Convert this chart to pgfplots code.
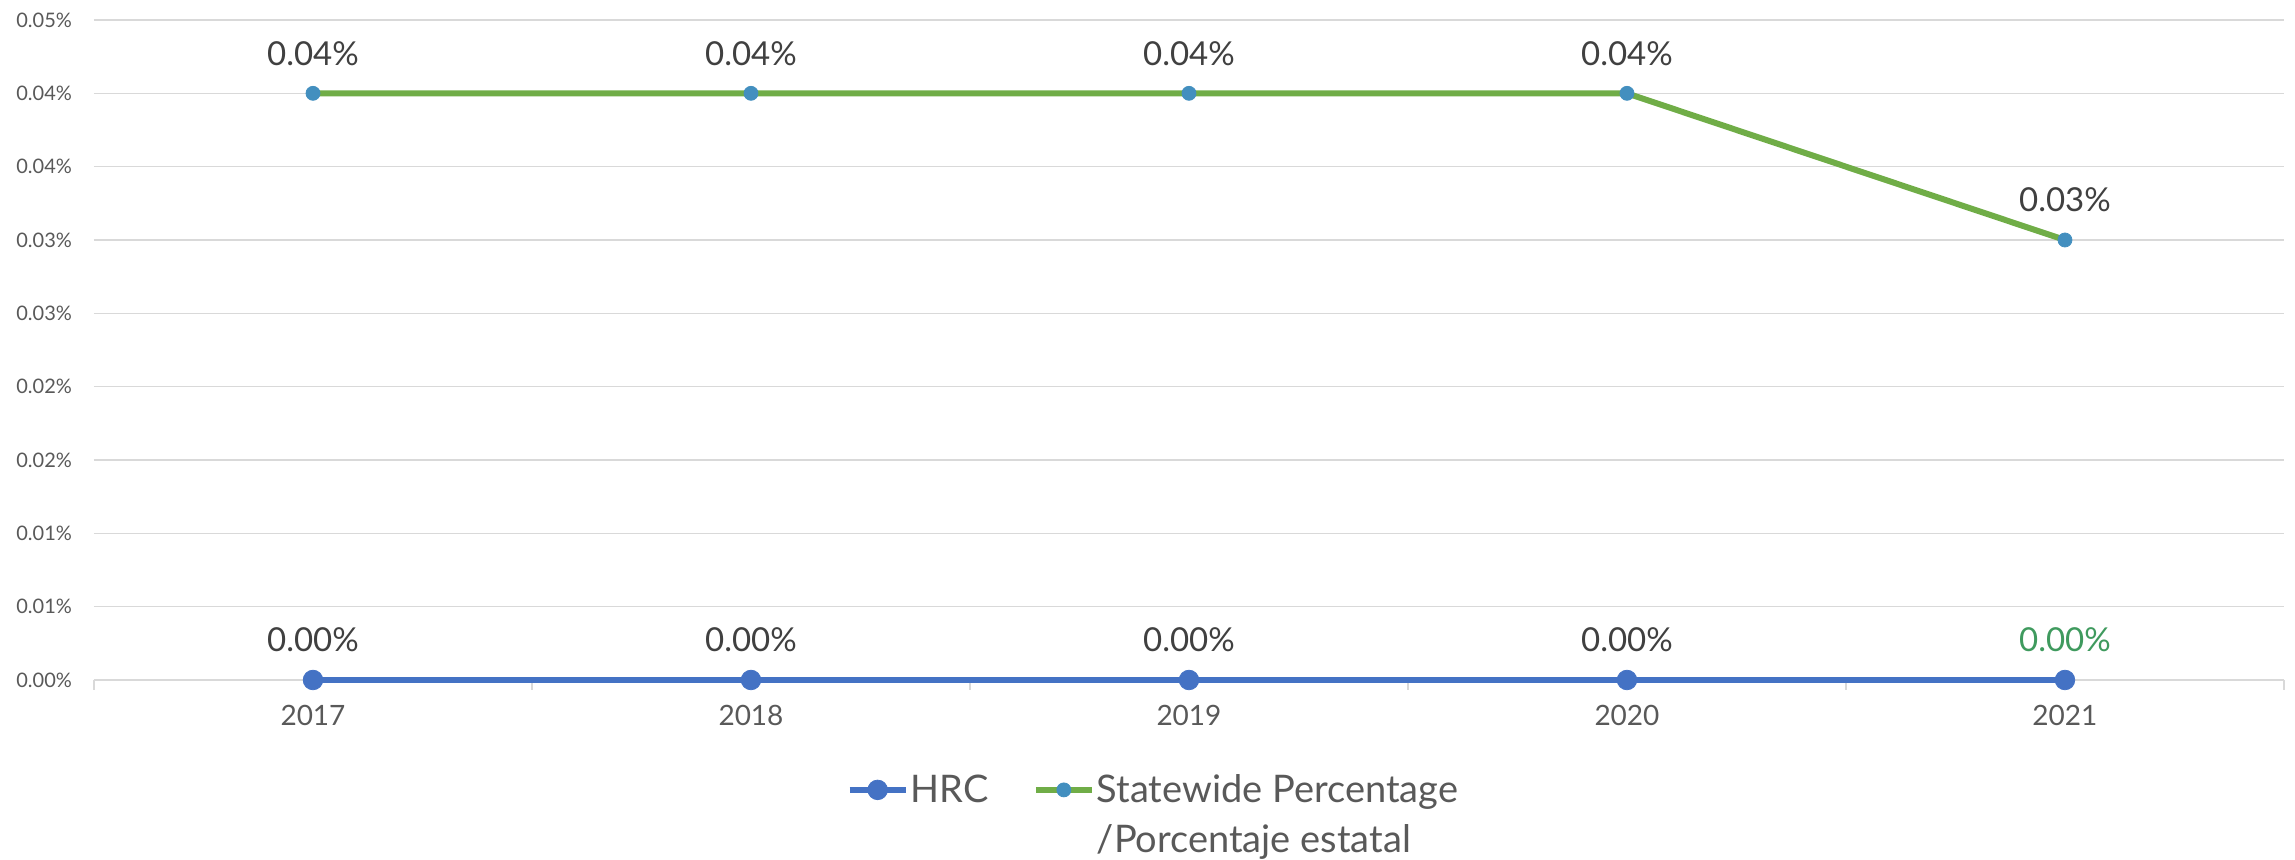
\documentclass[border=0pt]{standalone}
\usepackage{pgfplots}
\pgfplotsset{compat=1.18}
\usepackage{fontspec}
\setmainfont{Lato}
\definecolor{hrcblue}{HTML}{4472C4}
\definecolor{stgreen}{HTML}{70AD47}
\definecolor{stmark}{HTML}{438FBF}
\definecolor{gridgray}{HTML}{D9D9D9}
\definecolor{ticktext}{HTML}{595959}
\definecolor{lbltext}{HTML}{404040}
\definecolor{lblgreen}{HTML}{3F9A5E}
\begin{document}
\begin{tikzpicture}
\path[use as bounding box] (-47pt,-90pt) rectangle (1100.5pt,340pt);
\begin{axis}[
  at={(0pt,0pt)}, anchor=south west,
  scale only axis, width=1095pt, height=330pt,
  xmin=-0.5, xmax=4.5, ymin=0, ymax=0.045,
  clip=false,
  axis x line*=bottom, axis y line*=left,
  x axis line style={draw=gridgray, line width=0.75pt, -},
  y axis line style={draw=none},
  xtick={0,1,2,3,4}, xticklabels={2017,2018,2019,2020,2021},
  major tick length=0pt,
  extra x ticks={-0.5,0.5,1.5,2.5,3.5,4.5},
  extra x tick labels={},
  extra x tick style={major tick length=5pt, tick align=outside, grid=none,
     tick style={draw=gridgray, line width=0.75pt}},
  ytick={0,0.005,0.01,0.015,0.02,0.025,0.03,0.035,0.04,0.045},
  yticklabels={0.00\%,0.01\%,0.01\%,0.02\%,0.02\%,0.03\%,0.03\%,0.04\%,0.04\%,0.05\%},
  ymajorgrids, grid style={draw=gridgray, line width=0.75pt},
  ytick style={draw=none},
  tick label style={color=ticktext},
  yticklabel style={font=\fontsize{10}{12}\selectfont},
  xticklabel style={font=\fontsize{14}{16}\selectfont},
  yticklabel shift=7.5pt,
  xticklabel shift=9pt,
  nodes near coords, point meta=explicit symbolic,
  every node near coord/.append style={font=\fontsize{16.5}{18}\selectfont, color=lbltext, anchor=center, yshift=20pt},
  legend style={draw=none, fill=none, at={(0.3434,-0.1394)}, anchor=north west,
     legend columns=2, font=\fontsize{19}{28}\selectfont, text=ticktext,
     inner sep=0pt, row sep=7.5pt,
     nodes={inner sep=1pt},
     /tikz/every even column/.append style={column sep=21pt}},
  legend cell align=left,
  legend image code/.code={\draw[#1,mark repeat=2,mark phase=2] plot coordinates {(0pt,0pt)(14pt,0pt)(28pt,0pt)};},
]
\addplot[color=hrcblue, line width=3.25pt, mark=*, mark size=4.9pt,
  mark options={fill=hrcblue, draw=hrcblue, line width=0.4pt}]
  coordinates {(0,0) [0.00\%] (1,0) [0.00\%] (2,0) [0.00\%] (3,0) [0.00\%] (4,0) [\textcolor{lblgreen}{0.00\%}]};
\addlegendentry{HRC}
\addplot[color=stgreen, line width=3pt, mark=*, mark size=3.5pt,
  mark options={fill=stmark, draw=stmark, line width=0.4pt}]
  coordinates {(0,0.04) [0.04\%] (1,0.04) [0.04\%] (2,0.04) [0.04\%] (3,0.04) [0.04\%] (4,0.03) [0.03\%]};
\addlegendentry{Statewide Percentage}
\addlegendimage{empty legend}
\addlegendentry{}
\addlegendimage{empty legend}
\addlegendentry{/Porcentaje estatal}
\end{axis}
\end{tikzpicture}
\end{document}
